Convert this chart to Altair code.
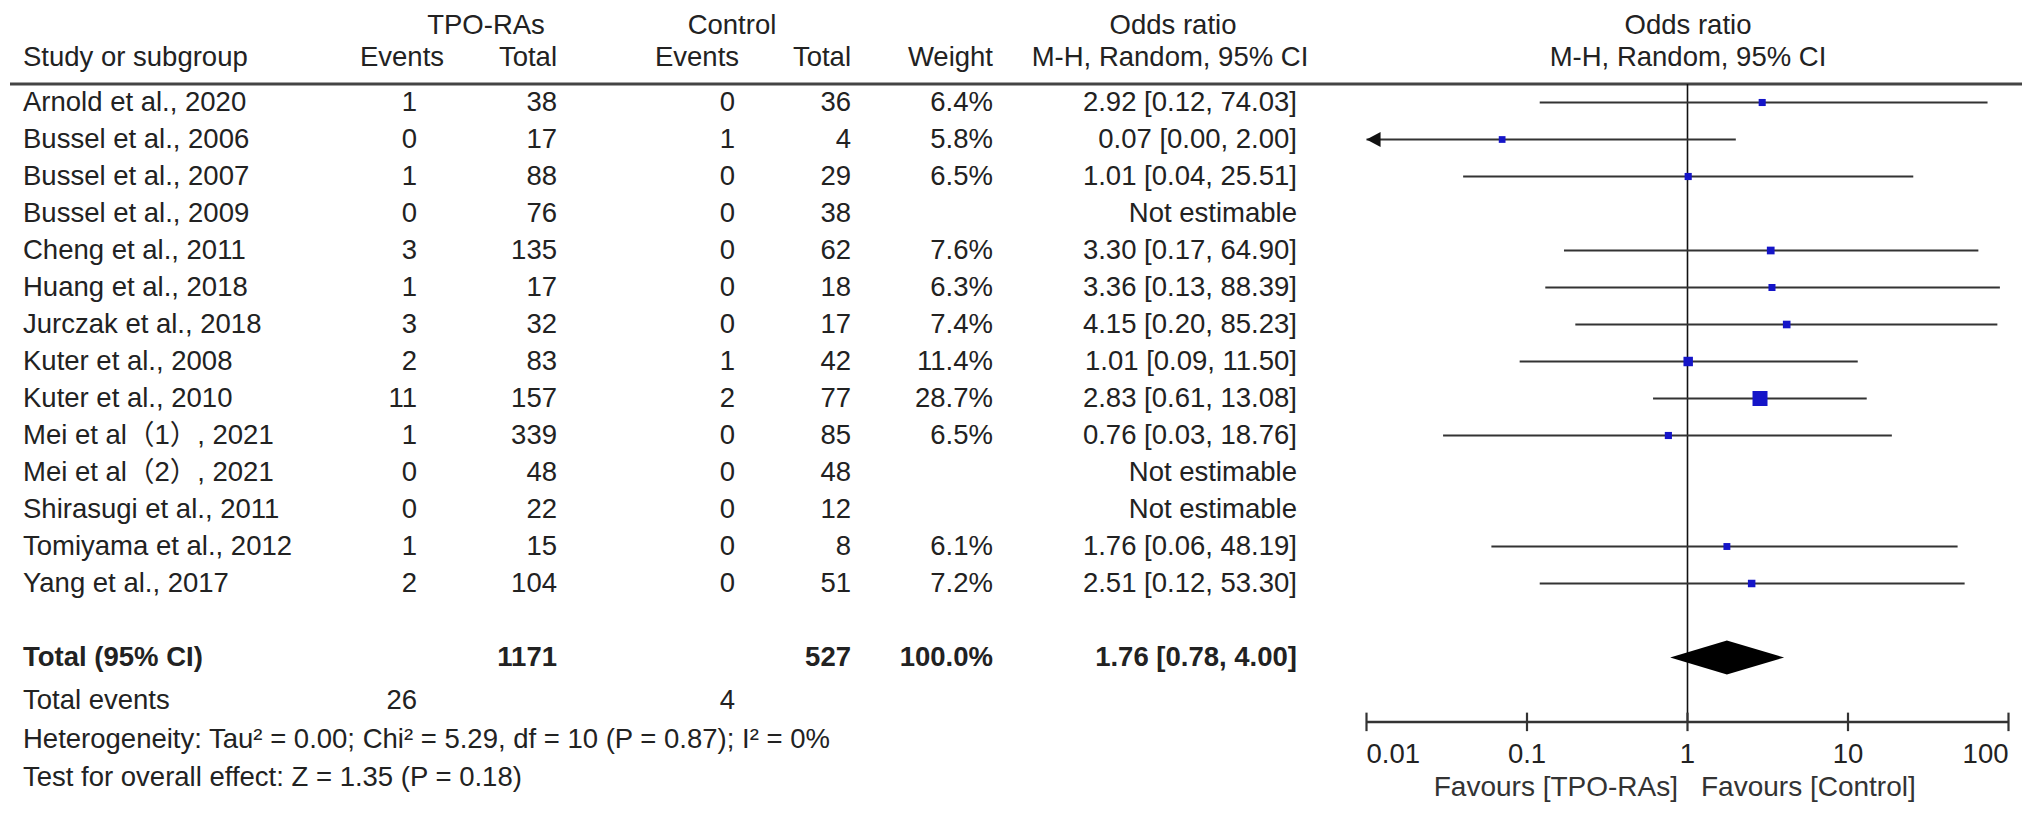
import altair as alt
import pandas as pd

# ---------------- data ----------------
studies = ["Arnold et al., 2020", "Bussel et al., 2006", "Bussel et al., 2007", "Bussel et al., 2009",
           "Cheng et al., 2011", "Huang et al., 2018", "Jurczak et al., 2018", "Kuter et al., 2008",
           "Kuter et al., 2010", "Mei et al（1）, 2021", "Mei et al（2）, 2021", "Shirasugi et al., 2011",
           "Tomiyama et al., 2012", "Yang et al., 2017"]
tpo_events = [1, 0, 1, 0, 3, 1, 3, 2, 11, 1, 0, 0, 1, 2]
tpo_total = [38, 17, 88, 76, 135, 17, 32, 83, 157, 339, 48, 22, 15, 104]
ctl_events = [0, 1, 0, 0, 0, 0, 0, 1, 2, 0, 0, 0, 0, 0]
ctl_total = [36, 4, 29, 38, 62, 18, 17, 42, 77, 85, 48, 12, 8, 51]
weights = [6.4, 5.8, 6.5, None, 7.6, 6.3, 7.4, 11.4, 28.7, 6.5, None, None, 6.1, 7.2]
or_est = [2.92, 0.07, 1.01, None, 3.30, 3.36, 4.15, 1.01, 2.83, 0.76, None, None, 1.76, 2.51]
ci_low = [0.12, 0.00, 0.04, None, 0.17, 0.13, 0.20, 0.09, 0.61, 0.03, None, None, 0.06, 0.12]
ci_high = [74.03, 2.00, 25.51, None, 64.90, 88.39, 85.23, 11.50, 13.08, 18.76, None, None, 48.19, 53.30]

total_tpo, total_ctl = 1171, 527
total_weight = "100.0%"
total_or, total_lo, total_hi = 1.76, 0.78, 4.00
events_tpo, events_ctl = 26, 4
heterogeneity = "Heterogeneity: Tau² = 0.00; Chi² = 5.29, df = 10 (P = 0.87); I² = 0%"
overall = "Test for overall effect: Z = 1.35 (P = 0.18)"
tick_vals = [0.01, 0.1, 1, 10, 100]
tick_labels = ["0.01", "0.1", "1", "10", "100"]

# ---------------- layout ----------------
W, H = 2016, 801
ROW0, ROWH = 94.5, 37.0
FONT = "Liberation Sans, Arial, Noto Sans CJK SC, sans-serif"
TXT = "#222222"
FS = 27.5
FSH = 27.5
LINE = "#333333"

ROW_TOTAL = 15.0
ROW_EVENTS = 16.18
ROW_HET = 17.23
ROW_TEST = 18.26
AXIS_ROW = 16.74
TICKLAB_ROW = 17.64
FAV_ROW = 18.53
HDR1, HDR2, HLINE = -2.07, -1.2, -0.5

y_scale = alt.Scale(domain=[-ROW0 / ROWH, (H - ROW0) / ROWH], range=[0, H], nice=False, zero=False)
x_scale = alt.Scale(type="log", domain=[tick_vals[0], tick_vals[-1]], range=[1358.5, 2000.5], nice=False)
Y = alt.Y("row:Q", scale=y_scale, axis=None)

def fmt(v):
    return f"{v:.2f}"

rows = []
for i, s in enumerate(studies):
    est = or_est[i]
    rows.append(dict(
        row=i, study=s, te=str(tpo_events[i]), tt=str(tpo_total[i]),
        ce=str(ctl_events[i]), ct=str(ctl_total[i]),
        wt="" if weights[i] is None else f"{weights[i]:.1f}%",
        ortxt="Not estimable" if est is None else f"{fmt(est)} [{fmt(ci_low[i])}, {fmt(ci_high[i])}]",
        est=est, w=weights[i], lo=ci_low[i], hi=ci_high[i],
    ))
df = pd.DataFrame(rows)
dfe = df[df["est"].notna()].copy()
dfe["lo_plot"] = dfe["lo"].clip(lower=tick_vals[0])
dfa = dfe[dfe["lo"] < tick_vals[0]].copy()


def col_text(data, field, x, align, bold=False, size=FS, color=TXT):
    return alt.Chart(data).mark_text(
        align=align, baseline="middle", font=FONT, fontSize=size,
        fontWeight="bold" if bold else "normal", color=color
    ).encode(x=alt.value(x), y=Y, text=f"{field}:N")


def one_text(s, row, x, align, bold=False, size=FS, color=TXT):
    d = pd.DataFrame({"row": [row], "t": [s]})
    return col_text(d, "t", x, align, bold, size, color)


layers = []
# headers
layers += [
    one_text("TPO-RAs", HDR1, 478, "center", size=FSH),
    one_text("Control", HDR1, 724, "center", size=FSH),
    one_text("Odds ratio", HDR1, 1165, "center", size=FSH),
    one_text("Odds ratio", HDR1, 1680, "center", size=FSH),
    one_text("Study or subgroup", HDR2, 15, "left", size=FSH),
    one_text("Events", HDR2, 394, "center", size=FSH),
    one_text("Total", HDR2, 549, "right", size=FSH),
    one_text("Events", HDR2, 689, "center", size=FSH),
    one_text("Total", HDR2, 843, "right", size=FSH),
    one_text("Weight", HDR2, 985, "right", size=FSH),
    one_text("M-H, Random, 95% CI", HDR2, 1162, "center", size=FSH),
    one_text("M-H, Random, 95% CI", HDR2, 1680, "center", size=FSH),
]
# header rule
layers.append(alt.Chart(pd.DataFrame({"row": [HLINE]})).mark_rule(color="#444444", strokeWidth=3).encode(
    x=alt.value(2), x2=alt.value(2014), y=Y))

# study columns
layers += [
    col_text(df, "study", 15, "left"),
    col_text(df, "te", 409, "right"),
    col_text(df, "tt", 549, "right"),
    col_text(df, "ce", 727, "right"),
    col_text(df, "ct", 843, "right"),
    col_text(df, "wt", 985, "right"),
    col_text(df, "ortxt", 1289, "right"),
]

# totals
layers += [
    one_text("Total (95% CI)", ROW_TOTAL, 15, "left", bold=True),
    one_text(str(total_tpo), ROW_TOTAL, 549, "right", bold=True),
    one_text(str(total_ctl), ROW_TOTAL, 843, "right", bold=True),
    one_text(total_weight, ROW_TOTAL, 985, "right", bold=True),
    one_text(f"{fmt(total_or)} [{fmt(total_lo)}, {fmt(total_hi)}]", ROW_TOTAL, 1289, "right", bold=True),
    one_text("Total events", ROW_EVENTS, 15, "left"),
    one_text(str(events_tpo), ROW_EVENTS, 409, "right"),
    one_text(str(events_ctl), ROW_EVENTS, 727, "right"),
    one_text(heterogeneity, ROW_HET, 15, "left"),
    one_text(overall, ROW_TEST, 15, "left"),
]

# null line
layers.append(alt.Chart(pd.DataFrame({"v": [1.0], "row": [HLINE], "row2": [AXIS_ROW]})).mark_rule(
    color="#111111", strokeWidth=1.6).encode(
    x=alt.X("v:Q", scale=x_scale, axis=None), y=Y, y2="row2:Q"))

# CI lines
layers.append(alt.Chart(dfe).mark_rule(color=LINE, strokeWidth=2.2).encode(
    x=alt.X("lo_plot:Q", scale=x_scale, axis=None), x2="hi:Q", y=Y))
# arrows for truncated CIs
layers.append(alt.Chart(dfa).mark_point(
    shape="M0,0L1.9,-1L1.9,1Z", filled=True, color="#111111", opacity=1, size=220, strokeWidth=0).encode(
    x=alt.X("lo_plot:Q", scale=x_scale, axis=None), y=Y))
# squares
layers.append(alt.Chart(dfe).mark_square(filled=True, color="#1515c8", opacity=1).encode(
    x=alt.X("est:Q", scale=x_scale, axis=None), y=Y,
    size=alt.Size("w:Q", scale=alt.Scale(domain=[0, 28.7], range=[0, 225]), legend=None)))

# diamond
HALF = 0.46
dd = pd.DataFrame({"x": [total_lo, total_or, total_hi],
                   "row": [ROW_TOTAL, ROW_TOTAL - HALF, ROW_TOTAL],
                   "row2": [ROW_TOTAL, ROW_TOTAL + HALF, ROW_TOTAL]})
layers.append(alt.Chart(dd).mark_area(color="#000000", opacity=1).encode(
    x=alt.X("x:Q", scale=x_scale, axis=None), y=Y, y2="row2:Q"))

# axis
layers.append(alt.Chart(pd.DataFrame({"a": [tick_vals[0]], "b": [tick_vals[-1]], "row": [AXIS_ROW]})).mark_rule(
    color="#333333", strokeWidth=2.5).encode(x=alt.X("a:Q", scale=x_scale, axis=None), x2="b:Q", y=Y))
ticks = pd.DataFrame({"v": tick_vals, "lab": tick_labels, "row": [AXIS_ROW - 0.25] * 5,
                      "row2": [AXIS_ROW + 0.25] * 5, "lrow": [TICKLAB_ROW] * 5})
layers.append(alt.Chart(ticks).mark_rule(color="#333333", strokeWidth=2.2).encode(
    x=alt.X("v:Q", scale=x_scale, axis=None), y=Y, y2="row2:Q"))
for sub, align in [(ticks.iloc[[0]], "left"), (ticks.iloc[1:4], "center"), (ticks.iloc[[4]], "right")]:
    layers.append(alt.Chart(sub).mark_text(
        align=align, baseline="middle", font=FONT, fontSize=FS, color=TXT).encode(
        x=alt.X("v:Q", scale=x_scale, axis=None),
        y=alt.Y("lrow:Q", scale=y_scale, axis=None), text="lab:N"))

# favours labels
layers += [
    one_text("Favours [TPO-RAs]", FAV_ROW, 1670, "right", size=28, color="#333333"),
    one_text("Favours [Control]", FAV_ROW, 1693, "left", size=28, color="#333333"),
]

chart = alt.layer(*layers).properties(
    width=W, height=H, padding=0, autosize="none", background="white"
).configure_view(stroke=None)

chart.save("out.html", embed_options={"renderer": "svg", "actions": False})
